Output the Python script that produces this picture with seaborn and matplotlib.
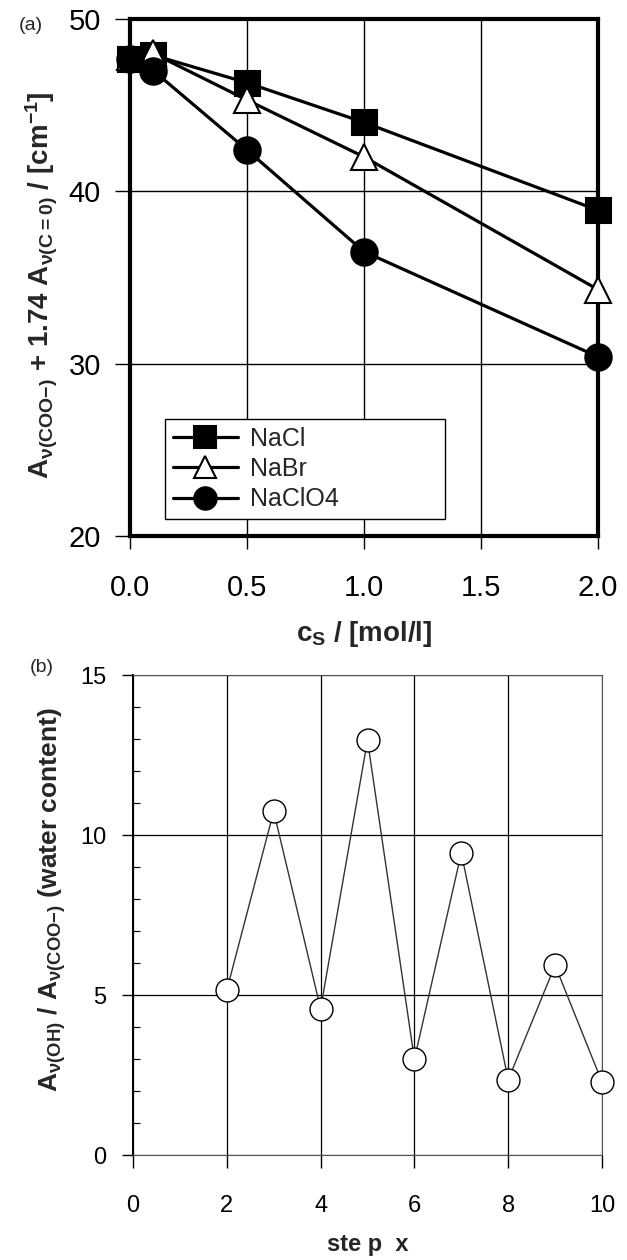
import numpy as np
import pandas as pd
import matplotlib
matplotlib.use("Agg")
import matplotlib.pyplot as plt
import seaborn as sns
from matplotlib.ticker import MultipleLocator, FormatStrFormatter

# ---- data ----
cs = [0.0, 0.1, 0.5, 1.0, 2.0]
nacl = [47.7, 47.9, 46.3, 44.0, 38.9]
nabr = [47.8, 48.0, 45.3, 42.0, 34.3]
naclo4 = [47.7, 47.0, 42.4, 36.5, 30.4]
salts = ["NaCl", "NaBr", "NaClO4"]

step = [2, 3, 4, 5, 6, 7, 8, 9, 10]
water = [5.15, 10.74, 4.57, 12.96, 2.99, 9.44, 2.35, 5.93, 2.28]

sns.set_theme(style="ticks")
plt.rcParams['font.family'] = ['Liberation Sans', 'DejaVu Sans']
plt.rcParams['mathtext.default'] = 'regular'

W, H = 627, 1260
fig = plt.figure(figsize=(W / 100, H / 100), dpi=100)
# axes from pixel boxes
a_l, a_r, a_t, a_b = 130, 598, 19, 536
b_l, b_r, b_t, b_b = 133, 602, 675, 1155
ax1 = fig.add_axes([a_l / W, 1 - a_b / H, (a_r - a_l) / W, (a_b - a_t) / H])
ax2 = fig.add_axes([b_l / W, 1 - b_b / H, (b_r - b_l) / W, (b_b - b_t) / H])

# ---- panel (a) ----
df_a = pd.DataFrame({"cs": cs * 3,
                     "val": nacl + nabr + naclo4,
                     "salt": [s for s in salts for _ in cs]})
styles = {"NaCl": dict(marker="s", markerfacecolor="black", markersize=18),
          "NaBr": dict(marker="^", markerfacecolor="white", markersize=19),
          "NaClO4": dict(marker="o", markerfacecolor="black", markersize=19)}
for s in salts:
    sub = df_a[df_a["salt"] == s]
    sns.lineplot(data=sub, x="cs", y="val", ax=ax1, color="black", lw=2.3,
                 markeredgecolor="black", markeredgewidth=1.5,
                 label=s, clip_on=False, zorder=5, **styles[s])

ax1.set_xlim(0, 2)
ax1.set_ylim(20, 50)
ax1.xaxis.set_major_locator(MultipleLocator(0.5))
ax1.xaxis.set_major_formatter(FormatStrFormatter("%.1f"))
ax1.yaxis.set_major_locator(MultipleLocator(10))
ax1.grid(True, color="black", lw=1.0)
for sp in ax1.spines.values():
    sp.set_visible(True)
    sp.set_linewidth(3.0)
    sp.set_color("black")
ax1.tick_params(axis="y", direction="out", length=11, width=1.0, pad=10,
                labelsize=21, colors="black")
ax1.tick_params(axis="x", direction="out", length=9, width=1.0, pad=18,
                labelsize=21, colors="black")
ax1.set_xlabel(r"c$_S$ / [mol/l]", fontsize=20, fontweight="bold")
ax1.set_ylabel(r"A$_{\nu(COO{-})}$ + 1.74 A$_{\nu(C=0)}$ / [cm$^{-1}$]",
               fontsize=20, fontweight="bold")
ax1.xaxis.set_label_coords(0.5, (a_b - 619) / (a_b - a_t))
ax1.yaxis.set_label_coords((60 - a_l) / (a_r - a_l), (a_b - 285) / (a_b - a_t))
leg = ax1.legend(loc="lower left", bbox_to_anchor=(0.075, 0.033, 0.598, 0.248),
                 mode="expand", fontsize=18, handlelength=2.6, frameon=True,
                 fancybox=False, borderpad=0.3, labelspacing=0.25,
                 handletextpad=0.5, borderaxespad=0, markerscale=0.85)
leg.get_frame().set_edgecolor("black")
leg.get_frame().set_linewidth(1.0)
leg.get_frame().set_alpha(1)

# ---- panel (b) ----
df_b = pd.DataFrame({"step": step, "water": water})
sns.lineplot(data=df_b, x="step", y="water", ax=ax2, color="#333333", lw=1.0,
             marker="o", markersize=16.5, markerfacecolor="white",
             markeredgecolor="black", markeredgewidth=1.0, clip_on=False,
             zorder=5)
ax2.set_xlim(0, 10)
ax2.set_ylim(0, 15)
ax2.xaxis.set_major_locator(MultipleLocator(2))
ax2.yaxis.set_major_locator(MultipleLocator(5))
ax2.yaxis.set_minor_locator(MultipleLocator(1))
ax2.grid(True, which="major", color="black", lw=0.9)
for name, sp in ax2.spines.items():
    sp.set_visible(True)
    sp.set_linewidth(0.8)
    sp.set_color("#555555")
ax2.spines["left"].set_linewidth(1.4)
ax2.spines["left"].set_color("black")
ax2.tick_params(axis="y", which="major", direction="out", length=8, width=1.0,
                pad=11, labelsize=17, colors="black")
ax2.tick_params(axis="y", which="minor", direction="in", length=5, width=0.8,
                left=True, colors="black")
ax2.tick_params(axis="x", direction="out", length=9, width=1.0, pad=20,
                labelsize=17, colors="black")
ax2.set_xlabel("ste p  x", fontsize=17, fontweight="bold")
ax2.set_ylabel(r"A$_{\nu(OH)}$ / A$_{\nu(COO{-})}$ (water content)",
               fontsize=19, fontweight="bold")
ax2.xaxis.set_label_coords(0.5, (b_b - 1233) / (b_b - b_t))
ax2.yaxis.set_label_coords((68 - b_l) / (b_r - b_l), (b_b - 900) / (b_b - b_t))

fig.text(31 / W, 1 - 26 / H, "(a)", fontsize=14, va="center", ha="center")
fig.text(42 / W, 1 - 667 / H, "(b)", fontsize=14, va="center", ha="center")

fig.savefig("out.png", dpi=100)
